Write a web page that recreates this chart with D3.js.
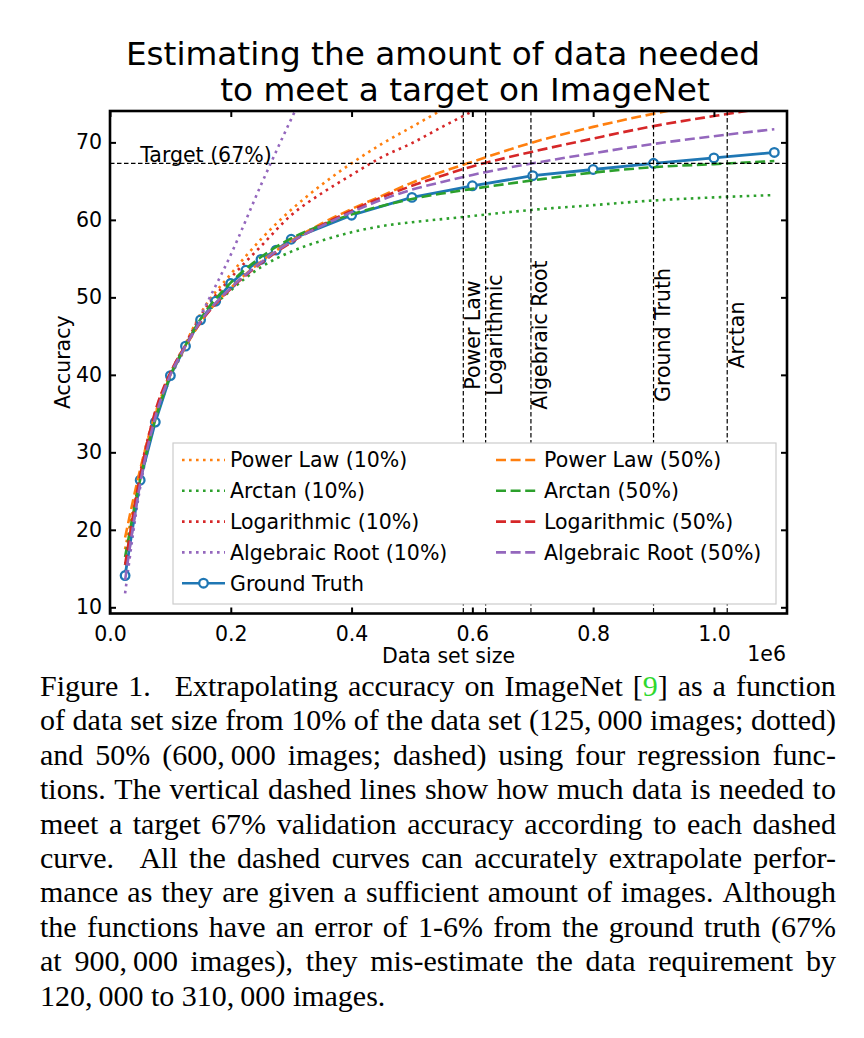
<!DOCTYPE html>
<html><head><meta charset="utf-8">
<script src="https://cdn.jsdelivr.net/npm/d3@7"></script>
<style>
body{margin:0;background:#fff;width:864px;height:1038px;overflow:hidden;position:relative}
svg{position:absolute;left:0;top:0}
#cap{position:absolute;left:40px;top:669px;width:796px;font-family:"Liberation Serif","Times New Roman",serif;font-size:30px;line-height:34.4px;color:#000}
#cap div.ln{display:flex;justify-content:space-between;white-space:nowrap}
#cap div.ln.last{justify-content:flex-start}
#cap div.ln.last span{margin-right:0.25em}
.cite{color:#2fd82f}
</style></head><body>
<svg id="chart" width="864" height="672"></svg>
<div id="cap"></div>
<script>
// ---------- data ----------
const curveX = [25000, 50000, 75000, 100000, 125000, 150000, 200000, 250000, 300000, 350000,
                400000, 450000, 500000, 550000, 600000, 700000, 800000, 900000, 1000000, 1100000];
const powerLaw10 = [17.5, 27.0, 34.8, 40.0, 44.0, 47.9, 53.0, 57.5, 61.3, 64.5, 67.3, 69.8, 72.0, 74.2, 76.2, null, null, null, null, null];
const arctan10 = [15.5, 26.5, 34.2, 39.8, 43.6, 46.9, 50.9, 53.9, 55.9, 57.3, 58.4, 59.2, 59.7, 60.1, 60.5, 61.3, 61.9, 62.5, 62.9, 63.2];
const logarithmic10 = [14.5, 27.3, 35.2, 40.2, 44.0, 47.6, 52.5, 56.6, 60.6, 63.4, 65.8, 68.1, 69.9, 72.0, 74.0, 77.5, null, null, null, null];
const algebraicRoot10 = [11.8, 25.5, 34.0, 39.6, 43.5, 47.6, 55.5, 64.5, 73.0, 81.0, null, null, null, null, null, null, null, null, null, null];
const powerLaw50 = [19.0, 27.8, 35.0, 40.0, 43.6, 46.8, 51.2, 54.6, 57.3, 59.5, 61.4, 63.1, 64.8, 66.2, 67.5, 70.0, 72.0, 73.7, 75.2, 76.6];
const arctan50 = [16.5, 26.5, 34.2, 39.9, 43.8, 47.2, 51.9, 55.2, 57.6, 59.3, 60.7, 61.8, 62.7, 63.4, 64.0, 65.1, 66.1, 66.8, 67.2, 67.6];
const logarithmic50 = [15.5, 27.0, 35.3, 40.3, 43.8, 46.8, 51.1, 54.4, 57.1, 59.3, 61.2, 62.9, 64.4, 65.7, 66.9, 68.8, 70.5, 72.1, 73.4, 74.6];
const algebraicRoot50 = [13.5, 26.0, 34.5, 40.0, 43.7, 46.9, 51.2, 54.5, 57.2, 59.2, 61.0, 62.6, 63.9, 64.9, 65.8, 67.3, 68.6, 69.8, 70.8, 71.7];

const gtX = [25000, 50000, 75000, 100000, 125000, 150000, 175000, 200000, 225000, 250000, 275000, 300000,
             400000, 500000, 600000, 700000, 800000, 900000, 1000000, 1100000];
const groundTruth = [14.1, 26.4, 33.9, 39.9, 43.7, 47.1, 49.5, 51.8, 53.5, 54.9, 56.1, 57.5,
                     60.6, 62.9, 64.4, 65.7, 66.5, 67.3, 68.0, 68.7];

const targetValue = 67.3;
const targetLabel = "Target (67%)";
const requirementLabels = ["Power Law", "Logarithmic", "Algebraic Root", "Ground Truth", "Arctan"];
const requirementX = [585000, 622000, 697000, 900000, 1022000];

const xTicks = [0, 200000, 400000, 600000, 800000, 1000000];
const xTickLabels = ["0.0", "0.2", "0.4", "0.6", "0.8", "1.0"];
const yTicks = [10, 20, 30, 40, 50, 60, 70];

const titleLines = ["Estimating the amount of data needed", "to meet a target on ImageNet"];
const xLabel = "Data set size", yLabel = "Accuracy", xOffset = "1e6";

const seriesNames = ["Power Law (10%)", "Arctan (10%)", "Logarithmic (10%)", "Algebraic Root (10%)", "Ground Truth",
                     "Power Law (50%)", "Arctan (50%)", "Logarithmic (50%)", "Algebraic Root (50%)"];

const captionLines = [
  "Figure 1.| Extrapolating accuracy on ImageNet [9] as a function",
  "of data set size from 10% of the data set (125,\u2009000 images; dotted)",
  "and 50% (600,\u2009000 images; dashed) using four regression func-",
  "tions. The vertical dashed lines show how much data is needed to",
  "meet a target 67% validation accuracy according to each dashed",
  "curve.| All the dashed curves can accurately extrapolate perfor-",
  "mance as they are given a sufficient amount of images. Although",
  "the functions have an error of 1-6% from the ground truth (67%",
  "at 900,\u2009000 images), they mis-estimate the data requirement by",
  "120,\u2009000 to 310,\u2009000 images."
];

// ---------- styles ----------
const C = {orange:"#ff7f0e", green:"#2ca02c", red:"#d62728", purple:"#9467bd", blue:"#1f77b4"};
const DOT = "2.6,4.4", DASH = "10,4.6";
const series = [
  {name:seriesNames[0], v:powerLaw10, c:C.orange, d:DOT},
  {name:seriesNames[1], v:arctan10, c:C.green, d:DOT},
  {name:seriesNames[2], v:logarithmic10, c:C.red, d:DOT},
  {name:seriesNames[3], v:algebraicRoot10, c:C.purple, d:DOT},
  {name:seriesNames[5], v:powerLaw50, c:C.orange, d:DASH},
  {name:seriesNames[6], v:arctan50, c:C.green, d:DASH},
  {name:seriesNames[7], v:logarithmic50, c:C.red, d:DASH},
  {name:seriesNames[8], v:algebraicRoot50, c:C.purple, d:DASH}
];

const FONT = "'DejaVu Sans', Verdana, sans-serif";
const svg = d3.select("#chart");
const L = 110, R = 787, T = 111, B = 613.5;
const x = d3.scaleLinear().domain([0, 1121000]).range([L, R]);
const y = d3.scaleLinear().domain([9.2, 74.05]).range([B, T]);

svg.append("defs").append("clipPath").attr("id","clip")
  .append("rect").attr("x",L).attr("y",T).attr("width",R-L).attr("height",B-T);

// title
svg.append("g").selectAll("text").data(titleLines).join("text")
  .attr("x",(d,i)=> i===0 ? 443 : 465).attr("y",(d,i)=>65 + i*36)
  .attr("text-anchor","middle").attr("font-family",FONT).attr("font-size",32.7).text(d=>d);

const plot = svg.append("g").attr("clip-path","url(#clip)");
const line = d3.line().defined(d=>d[1]!=null).x(d=>x(d[0])).y(d=>y(d[1])).curve(d3.curveMonotoneX);

function drawSeries(s){
  plot.append("path").datum(curveX.map((cx,i)=>[cx,s.v[i]]))
    .attr("d",line).attr("fill","none").attr("stroke",s.c).attr("stroke-width",2.6)
    .attr("stroke-dasharray",s.d);
}
series.slice(0,4).forEach(drawSeries);
const gtData = gtX.map((gx,i)=>[gx,groundTruth[i]]);
plot.append("path").datum(gtData).attr("d",d3.line().x(d=>x(d[0])).y(d=>y(d[1])))
  .attr("fill","none").attr("stroke",C.blue).attr("stroke-width",2.8);
plot.selectAll("circle.gt").data(gtData).join("circle").attr("class","gt")
  .attr("cx",d=>x(d[0])).attr("cy",d=>y(d[1])).attr("r",4.3)
  .attr("fill","#fff").attr("stroke",C.blue).attr("stroke-width",2.3);
series.slice(4).forEach(drawSeries);

// target line + vertical requirement lines
plot.append("line").attr("x1",L).attr("x2",R).attr("y1",y(targetValue)).attr("y2",y(targetValue))
  .attr("stroke","#000").attr("stroke-width",1.2).attr("stroke-dasharray","4.5,2.5");
svg.append("text").attr("x",x(50000)).attr("y",y(targetValue)-1.6)
  .attr("font-family",FONT).attr("font-size",20.5).text(targetLabel);
plot.selectAll("line.req").data(requirementX).join("line").attr("class","req")
  .attr("x1",d=>x(d)).attr("x2",d=>x(d)).attr("y1",T).attr("y2",B)
  .attr("stroke","#000").attr("stroke-width",1.2).attr("stroke-dasharray","4.5,2.5");
svg.append("g").selectAll("text").data(requirementX).join("text")
  .attr("transform",d=>`translate(${x(d)+16.5},335) rotate(-90)`)
  .attr("text-anchor","middle").attr("font-family",FONT).attr("font-size",20.5)
  .text((d,i)=>requirementLabels[i]);

// legend
const lg = svg.append("g");
lg.append("rect").attr("x",173).attr("y",443).attr("width",603).attr("height",161)
  .attr("fill","#fff").attr("stroke","#cccccc").attr("stroke-width",1.2);
const legendItems = seriesNames.map((n,i)=>{
  const col = i<5 ? 0 : 1, row = i<5 ? i : i-5;
  let st;
  if (i===4) st = {c:C.blue, d:null, gt:true};
  else { const s = series.find(s=>s.name===n); st = {c:s.c, d:s.d}; }
  return {n, col, row, ...st};
});
const li = lg.selectAll("g.item").data(legendItems).join("g").attr("class","item")
  .attr("transform",d=>`translate(${d.col===0?182:496},${460+d.row*30.8})`);
li.append("line").attr("x1",0).attr("x2",43).attr("y1",0).attr("y2",0)
  .attr("stroke",d=>d.c).attr("stroke-width",2.6).attr("stroke-dasharray",d=>d.d);
li.filter(d=>d.gt).append("circle").attr("cx",21.5).attr("cy",0).attr("r",4.3)
  .attr("fill","#fff").attr("stroke",C.blue).attr("stroke-width",2.3);
li.append("text").attr("x",48).attr("y",7.4).attr("font-family",FONT).attr("font-size",20.5).text(d=>d.n);

// axes (ticks inward on all four sides)
const fmtX = d => xTickLabels[xTicks.indexOf(d)];
const ax = svg.append("g").attr("transform",`translate(0,${B})`)
  .call(d3.axisBottom(x).tickValues(xTicks).tickFormat(fmtX).tickSize(-6).tickPadding(8));
const ay = svg.append("g").attr("transform",`translate(${L},0)`)
  .call(d3.axisLeft(y).tickValues(yTicks).tickSize(-6).tickPadding(8));
const at = svg.append("g").attr("transform",`translate(0,${T})`)
  .call(d3.axisTop(x).tickValues(xTicks).tickFormat("").tickSize(-6));
const ar = svg.append("g").attr("transform",`translate(${R},0)`)
  .call(d3.axisRight(y).tickValues(yTicks).tickFormat("").tickSize(-6));
[ax,ay,at,ar].forEach(g=>{
  g.select(".domain").remove();
  g.selectAll(".tick line").attr("stroke","#000").attr("stroke-width",2);
  g.selectAll(".tick text").attr("font-family",FONT).attr("font-size",20.5).attr("fill","#000");
});
ax.selectAll(".tick text").attr("dy","0.95em");
svg.append("rect").attr("x",L).attr("y",T).attr("width",R-L).attr("height",B-T)
  .attr("fill","none").attr("stroke","#000").attr("stroke-width",2.6);

// axis labels
svg.append("text").attr("x",(L+R)/2).attr("y",663).attr("text-anchor","middle")
  .attr("font-family",FONT).attr("font-size",20.5).text(xLabel);
svg.append("text").attr("x",786).attr("y",661).attr("text-anchor","end")
  .attr("font-family",FONT).attr("font-size",20.5).text(xOffset);
svg.append("text").attr("transform",`translate(70,${(T+B)/2}) rotate(-90)`).attr("text-anchor","middle")
  .attr("font-family",FONT).attr("font-size",20.5).text(yLabel);

// caption: each line justified word by word
const capLines = d3.select("#cap").selectAll("div").data(captionLines).join("div")
  .attr("class",(d,i)=> i===captionLines.length-1 ? "ln last" : "ln");
capLines.selectAll("span").data(d=>d.split(" ")).join("span")
  .style("margin-right",d=> d.endsWith("|") ? "14px" : null)
  .html(d=>d.replace("|","").replace("[9]",'[<span class="cite">9</span>]'));
</script>
</body></html>
